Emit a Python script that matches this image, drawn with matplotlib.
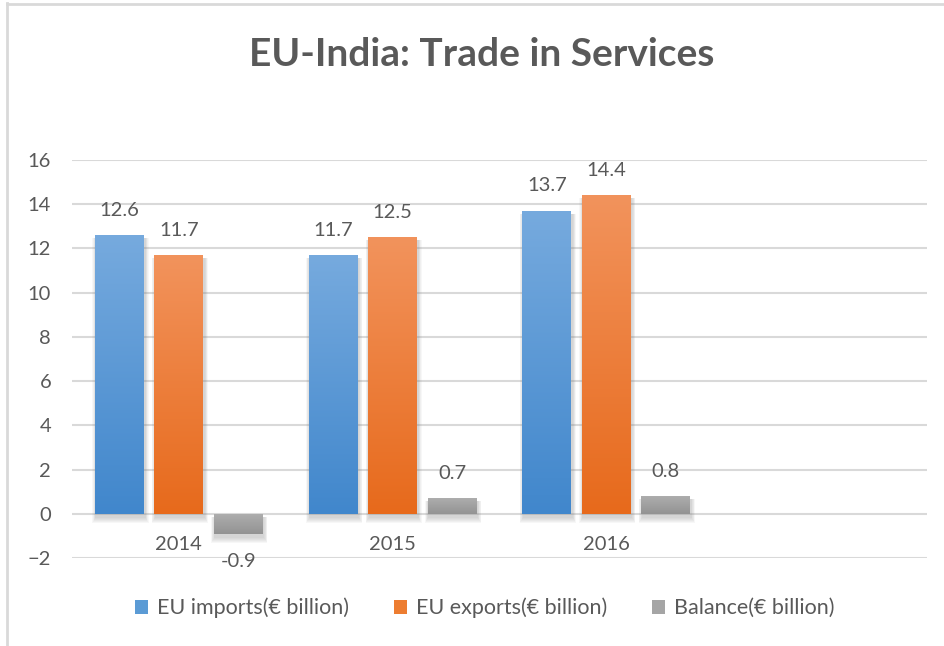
import numpy as np
import matplotlib.pyplot as plt
from matplotlib.patches import Rectangle, Patch
from matplotlib.lines import Line2D

plt.rcParams['font.family'] = ['Lato', 'DejaVu Sans']

years = ['2014', '2015', '2016']
imports = [12.6, 11.7, 13.7]
exports = [11.7, 12.5, 14.4]
balance = [-0.9, 0.7, 0.8]
series_names = ['EU imports(€ billion)', 'EU exports(€ billion)', 'Balance(€ billion)']

# (top, bottom) gradient colours per series
grads = [('#76aade', '#4187cc'), ('#f2935c', '#e76a1c'), ('#adadad', '#939393')]
flat = ['#5b9bd5', '#ed7d31', '#a5a5a5']
text_col = '#595959'

fig = plt.figure(figsize=(9.45, 6.46), dpi=100)
ax = fig.add_axes([72 / 945, 1 - 558 / 646, 855 / 945, 398 / 646])
ax.set_xlim(-0.5, 3.5)
ax.set_ylim(-2, 16)

# pixel -> data unit sizes
px_x = 4.0 / 855
px_y = 18.0 / 398

width = 0.229
step = 0.278


def gradient_bar(xc, h, top, bottom):
    x0, x1 = xc - width / 2, xc + width / 2
    y0, y1 = min(0, h), max(0, h)
    # soft drop shadow
    for k in range(6, 0, -1):
        ax.add_patch(Rectangle((x0 - k * px_x * 0.6 + px_x, y0 - (3 + k) * px_y),
                               (x1 - x0) + k * px_x * 1.2, (y1 - y0) + 2 * k * px_y * 0.5,
                               facecolor='#7f7f7f', edgecolor='none', alpha=0.06, zorder=2))
    c_top = np.array(plt.matplotlib.colors.to_rgb(top))
    c_bot = np.array(plt.matplotlib.colors.to_rgb(bottom))
    t = np.linspace(0, 1, 64)[:, None]
    img = (c_top * (1 - t) + c_bot * t)[:, None, :]
    ax.imshow(img, extent=[x0, x1, y0, y1], aspect='auto', origin='upper',
              zorder=3, interpolation='bicubic')


all_vals = [imports, exports, balance]
for s, vals in enumerate(all_vals):
    for i, v in enumerate(vals):
        xc = i + (s - 1) * step
        gradient_bar(xc, v, *grads[s])
        if v >= 0:
            ax.annotate(f'{v:g}', (xc, v), xytext=(0, 25), textcoords='offset pixels',
                        ha='center', va='center', fontsize=14.5, color=text_col, zorder=5)
        else:
            ax.annotate(f'{v:g}', (xc, v), xytext=(0, -28), textcoords='offset pixels',
                        ha='center', va='center', fontsize=14.5, color=text_col, zorder=5)

ax.set_xlim(-0.5, 3.5)
ax.set_ylim(-2, 16)

# category labels sit just under the zero line
for i, yr in enumerate(years):
    ax.annotate(yr, (i, 0), xytext=(0, -31), textcoords='offset pixels',
                ha='center', va='center', fontsize=14.5, color=text_col, zorder=5)

ax.set_yticks(range(-2, 17, 2))
ax.set_xticks([])
ax.tick_params(axis='y', length=0, pad=15, labelsize=14.5, labelcolor=text_col)
ax.grid(axis='y', color='#d9d9d9', lw=1.5, zorder=0)
ax.set_axisbelow(True)
for sp in ax.spines.values():
    sp.set_visible(False)

fig.text(0.51, 1 - 54 / 646, 'EU-India: Trade in Services', ha='center', va='center',
         fontsize=28, fontweight='bold', color=text_col)

handles = [Patch(facecolor=c, edgecolor='none') for c in flat]
fig.legend(handles, series_names, loc='center', bbox_to_anchor=(0.513, 1 - 608 / 646),
           ncol=3, frameon=False, fontsize=15.5, labelcolor=text_col,
           handlelength=0.6, handleheight=0.6, handletextpad=0.4, columnspacing=2.1)

# chart-area border (top and left edges visible)
fig.add_artist(Line2D([7 / 945, 7 / 945], [0, 1 - 3 / 646], transform=fig.transFigure,
                      color='#d9d9d9', lw=2))
fig.add_artist(Line2D([7 / 945, 1], [1 - 4 / 646, 1 - 4 / 646], transform=fig.transFigure,
                      color='#d9d9d9', lw=2))

fig.savefig('out.png', dpi=100, facecolor='white')
